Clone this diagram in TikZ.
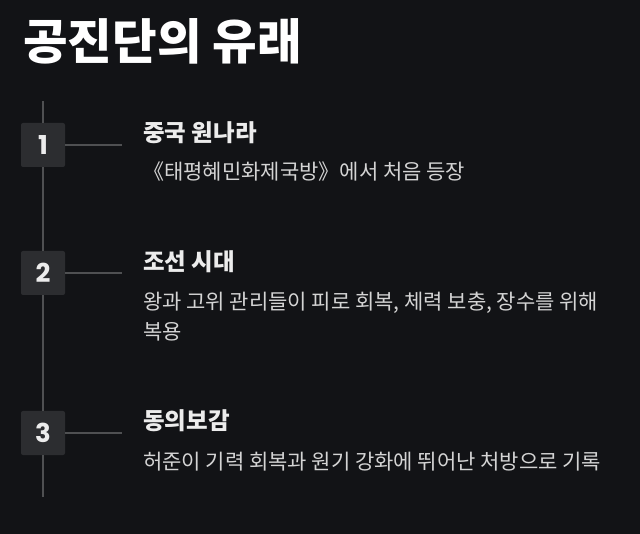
\documentclass[tikz,border=0pt]{standalone}
\usepackage{fontspec}
\setmainfont{Noto Sans CJK KR}
\newfontfamily\numfont{Poppins}
\usetikzlibrary{positioning}
\definecolor{pagebg}{HTML}{121316}
\definecolor{boxfill}{HTML}{2C2D30}
\definecolor{railgray}{HTML}{4F5052}
\definecolor{headtext}{HTML}{ECECEC}
\definecolor{desctext}{HTML}{D4D4D4}

\begin{document}
\begin{tikzpicture}[
    x=1pt, y=-1pt,
    stepnum/.style={rectangle, rounded corners=2pt, fill=boxfill, minimum size=44pt,
      inner sep=0pt, text=headtext, font=\numfont\bfseries\fontsize{26}{26}\selectfont},
    heading/.style={anchor=west, inner sep=0pt, text=headtext,
      font=\bfseries\fontsize{23.5}{23.5}\selectfont},
    desc/.style={anchor=west, inner sep=0pt, align=left, text=desctext,
      font=\fontsize{21}{30}\selectfont},
    rail/.style={draw=railgray, line width=2pt}
  ]
  \fill[pagebg] (0,0) rectangle (640,534);
  \useasboundingbox (0,0) rectangle (640,534);

  % title
  \node[anchor=west, inner sep=0pt, text=white, font=\bfseries\fontsize{48.5}{48.5}\selectfont]
    (title) at (23,41) {공진단의 유래};

  % timeline
  \coordinate (top) at (43,101);
  \coordinate (bottom) at (43,497);
  \node[stepnum] (box1) at (43,145) {1};
  \node[stepnum] (box2) at (43,273) {2};
  \node[stepnum] (box3) at (43,433) {3};
  \draw[rail] (top) -- (box1) (box1) -- (box2) (box2) -- (box3) (box3) -- (bottom);

  \coordinate (tick1) at (122,145);
  \coordinate (tick2) at (122,273);
  \coordinate (tick3) at (122,433);
  \draw[rail] (box1) -- (tick1);
  \draw[rail] (box2) -- (tick2);
  \draw[rail] (box3) -- (tick3);

  % entries
  \node[heading] (head1) at (143,132.5) {중국 원나라};
  \node[desc] (desc1) at (143,172) {《태평혜민화제국방》에서 처음 등장};

  \node[heading] (head2) at (143,262) {조선 시대};
  \node[desc, anchor=north west] (desc2) at (143,292)
    {왕과 고위 관리들이 피로 회복, 체력 보충, 장수를 위해\\복용};

  \node[heading] (head3) at (143,421) {동의보감};
  \node[desc] (desc3) at (143,462) {허준이 기력 회복과 원기 강화에 뛰어난 처방으로 기록};
\end{tikzpicture}
\end{document}
